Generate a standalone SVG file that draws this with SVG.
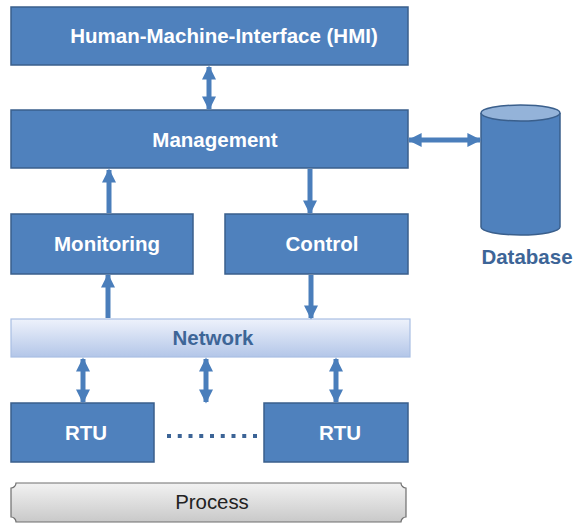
<svg xmlns="http://www.w3.org/2000/svg" width="576" height="524" viewBox="0 0 576 524">
  <defs>
    <linearGradient id="netGrad" x1="0" y1="0" x2="0" y2="1">
      <stop offset="0" stop-color="#eef2fb"/>
      <stop offset="1" stop-color="#b3c6e8"/>
    </linearGradient>
    <linearGradient id="procGrad" x1="0" y1="0" x2="0" y2="1">
      <stop offset="0" stop-color="#f2f2f2"/>
      <stop offset="1" stop-color="#c9c9c9"/>
    </linearGradient>
    <marker id="head" viewBox="0 0 10 10" refX="9" refY="5" markerWidth="3.2" markerHeight="2.8" markerUnits="strokeWidth" orient="auto-start-reverse">
      <path d="M0,0 L10,5 L0,10 z" fill="#4a7ebb"/>
    </marker>
  </defs>
  <style>
    .box { fill: #4f81bd; stroke: #3a5f8c; stroke-width: 1.5; }
    .lbl { font-family: "Liberation Sans", Arial, sans-serif; font-weight: bold; font-size: 20.5px; fill: #ffffff; text-anchor: middle; }
    .con { stroke: #4a7ebb; stroke-width: 5; fill: none; }
    .one { marker-end: url(#head); }
    .two { marker-start: url(#head); marker-end: url(#head); }
  </style>

  <g id="hmi">
    <rect class="box" x="11" y="7" width="397" height="58"/>
    <text class="lbl" x="224" y="43">Human-Machine-Interface (HMI)</text>
  </g>
  <g id="management">
    <rect class="box" x="11" y="110" width="397" height="58"/>
    <text class="lbl" x="215" y="147">Management</text>
  </g>
  <g id="monitoring">
    <rect class="box" x="11" y="214" width="182" height="60"/>
    <text class="lbl" x="107" y="251">Monitoring</text>
  </g>
  <g id="control">
    <rect class="box" x="225" y="214" width="183" height="60"/>
    <text class="lbl" x="322" y="251">Control</text>
  </g>
  <g id="network">
    <rect x="11" y="319" width="399" height="38" fill="url(#netGrad)" stroke="#a9bfe3" stroke-width="1.2"/>
    <text class="lbl" x="213" y="345" style="fill:#3d6597">Network</text>
  </g>
  <g id="rtu1">
    <rect class="box" x="11" y="403" width="143" height="59"/>
    <text class="lbl" x="86" y="440">RTU</text>
  </g>
  <g id="rtu2">
    <rect class="box" x="264" y="403" width="144" height="59"/>
    <text class="lbl" x="340" y="440">RTU</text>
  </g>
  <g id="process">
    <path d="M16,483 H401 A5,5 0 0 0 406,488 V517 A5,5 0 0 0 401,522 H16 A5,5 0 0 0 11,517 V488 A5,5 0 0 0 16,483 Z" fill="url(#procGrad)" stroke="#6e6e6e" stroke-width="1.2"/>
    <text x="212" y="509" font-family="'Liberation Sans', Arial, sans-serif" font-size="20.4" fill="#222222" text-anchor="middle">Process</text>
  </g>
  <g id="database">
    <path d="M481,113 V227 A39.5,8 0 0 0 560,227 V113" fill="#4f81bd" stroke="#3a5f8c" stroke-width="1.5"/>
    <ellipse cx="520.5" cy="113" rx="39.5" ry="8" fill="#94b3d9" stroke="#3a5f8c" stroke-width="1.5"/>
    <text x="527" y="264" font-family="'Liberation Sans', Arial, sans-serif" font-weight="bold" font-size="20.5" fill="#3d6597" text-anchor="middle">Database</text>
  </g>

  <g id="connectors">
    <line class="con two" x1="209" y1="67" x2="209" y2="109"/>
    <line class="con two" x1="409" y1="140" x2="480" y2="140"/>
    <line class="con one" x1="109" y1="213" x2="109" y2="170"/>
    <line class="con one" x1="310" y1="169" x2="310" y2="213"/>
    <line class="con one" x1="108" y1="318" x2="108" y2="275"/>
    <line class="con one" x1="311" y1="275" x2="311" y2="318"/>
    <line class="con two" x1="83" y1="359" x2="83" y2="402"/>
    <line class="con two" x1="206" y1="359" x2="206" y2="402"/>
    <line class="con two" x1="336" y1="359" x2="336" y2="402"/>
    <line x1="167" y1="436" x2="261" y2="436" stroke="#3c6496" stroke-width="4" stroke-dasharray="4 6.75"/>
  </g>
</svg>
